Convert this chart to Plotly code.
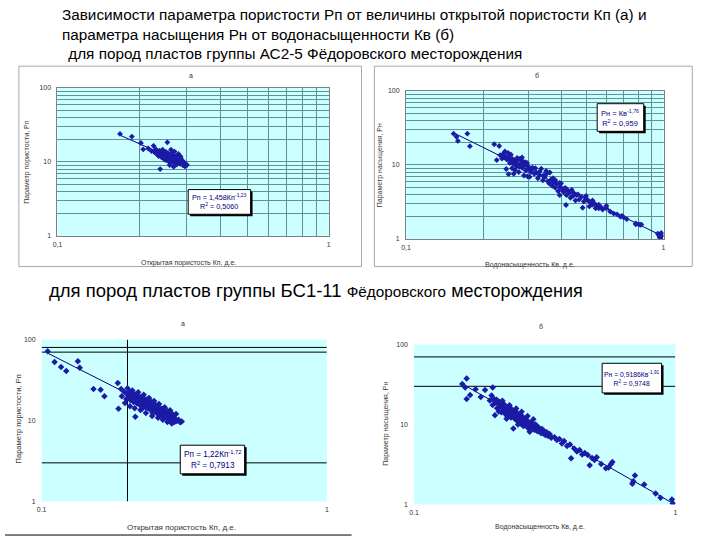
import plotly.graph_objects as go

# ---------------- DATA ----------------
# Panel а (АС2-5): open porosity Kp vs porosity parameter Pp
a_kp = [
    0.170, 0.188, 0.203, 0.207, 0.226, 0.254, 0.216, 0.222, 0.228, 0.230,
    0.232, 0.234, 0.236, 0.238, 0.239, 0.240, 0.242, 0.243, 0.244, 0.245,
    0.246, 0.247, 0.248, 0.249, 0.250, 0.251, 0.252, 0.253, 0.255, 0.256,
    0.257, 0.258, 0.259, 0.260, 0.261, 0.262, 0.263, 0.264, 0.265, 0.266,
    0.267, 0.268, 0.270, 0.271, 0.272, 0.274, 0.275, 0.276, 0.278, 0.280,
    0.281, 0.283, 0.285, 0.287, 0.290, 0.292, 0.295, 0.298, 0.300, 0.262,
    0.270, 0.279, 0.284, 0.288, 0.268, 0.259]
a_pp = [
    23.9, 22.0, 18.0, 14.8, 16.5, 18.4, 15.2, 14.0, 13.5, 15.0,
    12.8, 13.9, 12.0, 14.2, 8.0, 13.0, 11.5, 12.6, 14.6, 11.9,
    13.3, 12.2, 10.8, 12.9, 11.6, 13.7, 10.5, 12.4, 11.3, 13.0,
    10.2, 11.8, 12.5, 11.0, 9.8, 12.0, 10.8, 11.4, 13.2, 10.0,
    11.1, 12.3, 9.6, 10.6, 11.7, 10.2, 9.2, 10.9, 12.4, 9.9,
    10.5, 9.4, 11.2, 9.6, 9.0, 10.0, 8.7, 9.3, 9.1, 14.6,
    13.8, 12.8, 11.9, 10.4, 8.6, 9.1]
a_trend_x = [0.170, 0.300]
a_trend_y = [23.0, 9.1]

# Panel б (АС2-5): water saturation Kv vs saturation parameter Pn
b_kv = [
    0.153, 0.157, 0.159, 0.173, 0.177, 0.220, 0.225, 0.232, 0.236, 0.238,
    0.240, 0.242, 0.244, 0.245, 0.247, 0.249, 0.250, 0.251, 0.253, 0.254,
    0.256, 0.258, 0.259, 0.261, 0.262, 0.263, 0.265, 0.266, 0.268, 0.270,
    0.272, 0.274, 0.276, 0.278, 0.280, 0.282, 0.283, 0.285, 0.287, 0.288,
    0.290, 0.292, 0.294, 0.296, 0.298, 0.300, 0.302, 0.305, 0.310, 0.315,
    0.320, 0.325, 0.330, 0.335, 0.340, 0.345, 0.350, 0.355, 0.360, 0.365,
    0.370, 0.375, 0.380, 0.385, 0.390, 0.395, 0.400, 0.405, 0.410, 0.415,
    0.420, 0.425, 0.430, 0.435, 0.440, 0.445, 0.450, 0.460, 0.470, 0.480,
    0.490, 0.500, 0.510, 0.520, 0.530, 0.540, 0.550, 0.560, 0.570, 0.580,
    0.600, 0.620, 0.640, 0.660, 0.680, 0.700, 0.720, 0.780, 0.800, 0.820,
    0.950, 0.960, 0.965, 0.970, 0.975, 0.980, 0.985, 0.975, 0.245, 0.268,
    0.285, 0.310, 0.330, 0.350, 0.362, 0.380, 0.395, 0.420, 0.440, 0.465,
    0.500, 0.530, 0.560, 0.600, 0.255, 0.275, 0.295, 0.318, 0.342, 0.372,
    0.418, 0.485, 0.690, 0.780, 0.812, 0.545, 0.515, 0.455, 0.395, 0.230]
b_pn = [
    26.4, 24.0, 21.1, 26.4, 17.9, 19.0, 11.6, 13.5, 12.2, 14.0,
    12.8, 15.2, 13.0, 8.8, 11.9, 14.5, 7.5, 12.5, 10.6, 13.6,
    11.2, 9.0, 12.0, 10.3, 7.6, 11.5, 8.5, 10.8, 9.6, 12.4,
    10.0, 8.0, 9.4, 11.8, 10.5, 12.6, 9.1, 11.0, 7.2, 9.8,
    10.9, 8.4, 9.9, 7.0, 8.9, 9.3, 6.9, 8.0, 8.7, 7.6,
    7.9, 6.6, 7.3, 8.9, 6.2, 6.8, 7.5, 6.0, 5.6, 6.3,
    5.2, 5.8, 4.9, 5.5, 4.4, 5.0, 5.6, 4.6, 4.3, 4.9,
    3.9, 4.5, 4.2, 3.6, 4.6, 3.8, 4.1, 3.9, 3.4, 3.7,
    3.2, 3.5, 3.3, 3.1, 2.9, 3.0, 2.8, 2.6, 2.7, 2.5,
    2.6, 2.35, 2.2, 2.15, 2.0, 1.95, 1.85, 1.62, 1.58, 1.56,
    1.18, 1.12, 1.05, 1.15, 1.08, 1.20, 1.10, 1.00, 12.0, 11.0,
    10.2, 9.2, 8.1, 8.3, 7.9, 6.2, 5.7, 4.7, 4.4, 4.0,
    3.8, 3.3, 2.9, 2.8, 13.8, 12.0, 10.6, 9.0, 7.2, 6.6,
    2.87, 2.64, 2.05, 1.58, 1.55, 2.6, 2.75, 3.3, 3.9, 18.0]
b_trend_x = [0.155, 0.985]
b_trend_y = [26.5, 1.10]

# Panel а (БС1-11): open porosity Kp vs porosity parameter Pp
c_kp = [
    0.105, 0.111, 0.117, 0.122, 0.134, 0.136, 0.152, 0.161, 0.166, 0.185,
    0.190, 0.186, 0.191, 0.213, 0.195, 0.198, 0.200, 0.202, 0.203, 0.205,
    0.206, 0.208, 0.209, 0.210, 0.211, 0.212, 0.214, 0.215, 0.216, 0.217,
    0.218, 0.219, 0.220, 0.221, 0.222, 0.223, 0.224, 0.225, 0.226, 0.227,
    0.228, 0.229, 0.230, 0.231, 0.232, 0.233, 0.234, 0.235, 0.236, 0.237,
    0.238, 0.239, 0.240, 0.241, 0.242, 0.243, 0.244, 0.245, 0.246, 0.247,
    0.248, 0.249, 0.250, 0.251, 0.252, 0.253, 0.254, 0.255, 0.256, 0.257,
    0.258, 0.259, 0.260, 0.261, 0.262, 0.263, 0.264, 0.265, 0.266, 0.267,
    0.268, 0.269, 0.270, 0.272, 0.274, 0.275, 0.277, 0.279, 0.280, 0.282,
    0.284, 0.286, 0.288, 0.290, 0.292, 0.295, 0.298, 0.302, 0.306, 0.310,
    0.196, 0.204, 0.212, 0.222, 0.232, 0.244, 0.256, 0.266, 0.276, 0.286,
    0.200, 0.208, 0.218, 0.228, 0.238, 0.248, 0.258, 0.270, 0.282, 0.296,
    0.215, 0.225, 0.235, 0.245, 0.255, 0.265, 0.275, 0.285, 0.225, 0.245]
c_pp = [
    72.0, 53.0, 46.0, 41.0, 54.0, 45.0, 24.5, 24.0, 20.0, 29.0,
    24.5, 14.0, 20.0, 11.1, 22.5, 18.5, 21.0, 19.5, 23.0, 17.8,
    20.5, 18.8, 21.8, 16.9, 19.6, 17.8, 20.2, 18.4, 16.2, 19.0,
    17.2, 20.0, 18.0, 15.6, 19.2, 16.8, 17.9, 15.2, 18.6, 16.4,
    17.4, 15.0, 18.2, 16.0, 14.6, 17.0, 15.6, 16.8, 14.2, 17.6,
    15.2, 16.4, 13.8, 15.8, 14.6, 17.0, 13.4, 15.4, 14.2, 16.2,
    13.0, 14.8, 13.8, 15.6, 12.6, 14.4, 13.4, 12.2, 14.8, 13.0,
    12.0, 13.8, 12.6, 11.6, 13.2, 12.2, 14.0, 11.2, 12.8, 11.8,
    13.0, 11.0, 12.2, 11.4, 12.6, 10.6, 11.8, 10.9, 12.0, 10.3,
    11.2, 10.0, 10.8, 11.5, 9.6, 10.4, 9.9, 10.2, 9.5, 9.7,
    16.5, 15.0, 14.2, 13.5, 12.4, 11.4, 10.8, 10.2, 9.6, 9.2,
    25.0, 23.5, 22.4, 20.8, 19.0, 17.4, 16.0, 14.6, 13.4, 12.0,
    21.2, 19.6, 18.4, 16.6, 15.2, 13.9, 13.2, 12.4, 14.0, 12.4]
c_trend_x = [0.105, 0.310]
c_trend_y = [68.0, 9.8]
c_hlines = [80, 70, 3]
c_vlines = [0.2]

# Panel б (БС1-11): water saturation Kv vs saturation parameter Pn
d_kv = [
    0.153, 0.159, 0.157, 0.159, 0.164, 0.187, 0.200, 0.172, 0.180, 0.195,
    0.198, 0.200, 0.202, 0.204, 0.205, 0.207, 0.208, 0.210, 0.211, 0.212,
    0.214, 0.215, 0.216, 0.218, 0.219, 0.220, 0.222, 0.223, 0.224, 0.226,
    0.227, 0.228, 0.230, 0.231, 0.232, 0.234, 0.235, 0.236, 0.238, 0.239,
    0.240, 0.241, 0.242, 0.244, 0.245, 0.246, 0.248, 0.249, 0.250, 0.252,
    0.253, 0.254, 0.256, 0.257, 0.258, 0.260, 0.261, 0.262, 0.264, 0.265,
    0.266, 0.268, 0.269, 0.270, 0.272, 0.273, 0.275, 0.277, 0.278, 0.280,
    0.282, 0.284, 0.286, 0.288, 0.290, 0.292, 0.294, 0.296, 0.298, 0.300,
    0.303, 0.306, 0.309, 0.312, 0.315, 0.318, 0.322, 0.326, 0.330, 0.335,
    0.345, 0.352, 0.360, 0.368, 0.375, 0.385, 0.395, 0.399, 0.410, 0.420,
    0.430, 0.440, 0.450, 0.462, 0.470, 0.480, 0.490, 0.500, 0.542, 0.566,
    0.574, 0.555, 0.520, 0.684, 0.700, 0.690, 0.760, 0.840, 0.877, 0.970,
    0.977, 0.218, 0.232, 0.246, 0.258, 0.272, 0.286, 0.226, 0.250, 0.278]
d_pn = [
    32.0, 37.6, 29.1, 20.9, 23.4, 27.0, 29.1, 27.5, 22.0, 20.0,
    23.0, 17.5, 21.0, 13.0, 18.8, 20.4, 16.0, 18.0, 14.5, 19.2,
    16.8, 17.8, 14.2, 16.2, 18.4, 15.2, 17.0, 13.6, 15.8, 16.8,
    14.4, 12.6, 15.4, 16.2, 13.6, 14.8, 12.2, 15.6, 13.2, 14.2,
    8.9, 12.4, 13.8, 11.6, 14.6, 12.8, 11.2, 13.4, 12.0, 10.6,
    12.8, 11.4, 13.2, 10.2, 11.8, 12.4, 10.8, 9.6, 11.6, 10.4,
    12.0, 9.9, 11.2, 10.5, 9.2, 11.0, 10.0, 8.1, 10.4, 9.5,
    10.6, 9.0, 9.8, 8.6, 9.4, 10.0, 8.4, 9.0, 8.2, 9.2,
    8.6, 7.8, 8.8, 7.7, 8.2, 7.4, 8.0, 7.2, 7.6, 6.8,
    6.9, 6.4, 6.6, 5.8, 6.2, 5.4, 5.6, 3.78, 5.0, 4.6,
    4.8, 4.2, 4.4, 4.15, 3.1, 3.8, 3.6, 3.9, 2.84, 3.18,
    3.4, 2.9, 3.2, 1.82, 2.3, 1.95, 1.77, 1.37, 1.21, 1.15,
    1.03, 19.8, 17.4, 15.8, 14.4, 12.8, 11.6, 11.8, 10.0, 8.6]
d_trend_x = [0.152, 0.980]
d_trend_y = [32.5, 1.03]
d_hlines = [70, 30]

# Axis ticks
x_tick_vals = [0.1, 0.2, 0.3, 0.4, 0.5, 0.6, 0.7, 0.8, 0.9, 1.0]
x_tick_text_top = ["0,1", "", "", "", "", "", "", "", "", "1"]
y_tick_vals = [1, 2, 3, 4, 5, 6, 7, 8, 9, 10, 20, 30, 40, 50, 60, 70, 80, 90, 100]
y_tick_text = ["1", "", "", "", "", "", "", "", "", "10", "", "", "", "", "", "", "", "", "100"]
x_tick_vals_bot = [0.1, 1.0]
x_tick_text_bot = ["0.1", "1"]
y_tick_vals_bot = [1, 10, 100]
y_tick_text_bot = ["1", "10", "100"]

# ---------------- FIGURE ----------------
W, H = 720, 540
def px(x): return x / W
def py(y): return 1 - y / H

FONT = "Liberation Sans, Arial, sans-serif"
MARK = "#1b1ba6"
LINE = "#000080"
GRID = "#5b9494"
BG = "#ccffff"

fig = go.Figure()

# reference lines (bottom panels)
for v in c_hlines:
    fig.add_trace(go.Scatter(x=[0.1, 1.0], y=[v, v], mode="lines", xaxis="x3", yaxis="y3",
                             line=dict(color="black", width=1), hoverinfo="skip"))
for v in c_vlines:
    fig.add_trace(go.Scatter(x=[v, v], y=[1, 100], mode="lines", xaxis="x3", yaxis="y3",
                             line=dict(color="black", width=1), hoverinfo="skip"))
for v in d_hlines:
    fig.add_trace(go.Scatter(x=[0.1, 1.0], y=[v, v], mode="lines", xaxis="x4", yaxis="y4",
                             line=dict(color="black", width=1), hoverinfo="skip"))

panels = [
    ("x", "y", a_kp, a_pp, a_trend_x, a_trend_y, 4.5),
    ("x2", "y2", b_kv, b_pn, b_trend_x, b_trend_y, 4.5),
    ("x3", "y3", c_kp, c_pp, c_trend_x, c_trend_y, 5),
    ("x4", "y4", d_kv, d_pn, d_trend_x, d_trend_y, 5),
]
for xa, ya, xs, ys, tx, ty, ms in panels:
    fig.add_trace(go.Scatter(x=tx, y=ty, mode="lines", xaxis=xa, yaxis=ya,
                             line=dict(color=LINE, width=1), hoverinfo="skip"))
    fig.add_trace(go.Scatter(x=xs, y=ys, mode="markers", xaxis=xa, yaxis=ya,
                             marker=dict(symbol="diamond", size=ms, color=MARK,
                                         line=dict(width=0))))

tickfont = dict(family=FONT, size=7, color="#333333")

def top_x(domain):
    return dict(type="log", range=[-1, 0], domain=domain, tickmode="array",
                tickvals=x_tick_vals, ticktext=x_tick_text_top, showgrid=True,
                gridcolor=GRID, gridwidth=1, showline=True, linecolor="#808080",
                linewidth=1, mirror=True, ticks="", zeroline=False, tickfont=tickfont,
                ticklabelstandoff=2)

def top_y(domain, anchor):
    return dict(type="log", range=[0, 2], domain=domain, anchor=anchor, tickmode="array",
                tickvals=y_tick_vals, ticktext=y_tick_text, showgrid=True,
                gridcolor=GRID, gridwidth=1, showline=True, linecolor="#808080",
                linewidth=1, mirror=True, ticks="", zeroline=False, tickfont=tickfont,
                ticklabelstandoff=4)

def bot_x(domain, anchor):
    return dict(type="log", range=[-1, 0], domain=domain, anchor=anchor, tickmode="array",
                tickvals=x_tick_vals_bot, ticktext=x_tick_text_bot, showgrid=False,
                showline=False, ticks="", zeroline=False, tickfont=tickfont,
                ticklabelstandoff=3)

def bot_y(domain, anchor):
    return dict(type="log", range=[0, 2], domain=domain, anchor=anchor, tickmode="array",
                tickvals=y_tick_vals_bot, ticktext=y_tick_text_bot, showgrid=False,
                showline=False, ticks="", zeroline=False, tickfont=tickfont,
                ticklabelstandoff=5)

xa1 = top_x([px(53), px(327)]); xa1["anchor"] = "y"
ya1 = top_y([py(235), py(85)], "x")
xa2 = top_x([px(405), px(665)]); xa2["anchor"] = "y2"
ya2 = top_y([py(238), py(88)], "x2")
xa3 = bot_x([px(37), px(325)], "y3")
ya3 = bot_y([py(504), py(340)], "x3")
xa4 = bot_x([px(413), px(677)], "y4")
ya4 = bot_y([py(507), py(345)], "x4")

ann = []
def A(text, x, y, size=7, color="#333333", angle=0, xanchor="center", **kw):
    ann.append(dict(text=text, x=px(x), y=py(y), xref="paper", yref="paper",
                    showarrow=False, xanchor=xanchor, yanchor="middle", textangle=angle,
                    font=dict(family=FONT, size=size, color=color), **kw))

# header
A("Зависимости параметра пористости Рп от величины открытой пористости Кп (а) и", 56, 11, 15.3, "black", xanchor="left")
A("параметра насыщения Рн от водонасыщенности Кв (б)", 56, 31, 15.3, "black", xanchor="left")
A(" для пород пластов группы АС2-5 Фёдоровского месторождения", 58, 50, 15.3, "black", xanchor="left")
A("для пород пластов группы БС1-11 <span style='font-size:15.3px'>Фёдоровского</span> "
  "<span style='font-size:18px'>месторождения</span>",
  42, 290, 18.5, "black", xanchor="left")

# panel letters
A("а", 188, 72, 7); A("б", 537, 72, 7); A("а", 180, 324, 7); A("б", 541, 327, 7)

# axis titles
A("Открытая пористость Кп, д.е.", 185, 262)
A("Параметр пористости, Рп", 22, 160, angle=-90)
A("Водонасыщенность Кв, д.е.", 530, 264)
A("Параметр насыщения, Рн", 379, 163, angle=-90)
A("Открытая пористость Кп, д.е.", 178, 530, 8)
A("Параметр пористости, Рп", 14, 420, 7.5, angle=-90)
A("Водонасыщенность Кв, д.е.", 540, 530)
A("Параметр насыщения, Рн", 385, 425, angle=-90)

# equation boxes
boxes = [
    ((185, 188, 248, 213), "Рп = 1,458Кп<sup>-1,23</sup><br>R<sup>2</sup> = 0,5060", 7.2),
    ((598, 101, 645, 129), "Рн = Кв<sup>-1,76</sup><br>R<sup>2</sup> = 0,959", 7.5),
    ((177, 447, 242, 476), "Рп = 1,22Кп<sup>-1,72</sup><br>R<sup>2</sup> = 0,7913", 8.2),
    ((603, 364, 663, 394), "Рн = 0,9186Кв<sup>-1,91</sup><br>R<sup>2</sup> = 0,9748", 6.8),
]
shapes = []
for (x0, y0, x1, y1), txt, fs in boxes:
    shapes.append(dict(type="rect", xref="paper", yref="paper", x0=px(x0 + 2), x1=px(x1 + 2),
                       y0=py(y1 + 2), y1=py(y0 + 2), fillcolor="black", line=dict(width=0), layer="above"))
    shapes.append(dict(type="rect", xref="paper", yref="paper", x0=px(x0), x1=px(x1),
                       y0=py(y1), y1=py(y0), fillcolor="white", line=dict(color="black", width=1), layer="above"))
    A(txt, (x0 + x1) / 2, (y0 + y1) / 2, fs, LINE)

# frames of the top charts
shapes.append(dict(type="rect", xref="paper", yref="paper", x0=px(14), x1=px(360), y0=py(266), y1=py(63),
                   fillcolor="rgba(0,0,0,0)", line=dict(color="#a8a8a8", width=1), layer="below"))
shapes.append(dict(type="rect", xref="paper", yref="paper", x0=px(373), x1=px(694), y0=py(266), y1=py(63),
                   fillcolor="rgba(0,0,0,0)", line=dict(color="#a8a8a8", width=1), layer="below"))
# bottom rule under lower-left chart
shapes.append(dict(type="line", xref="paper", yref="paper", x0=0, x1=px(350), y0=py(538), y1=py(538),
                   line=dict(color="black", width=1)))

fig.update_layout(
    width=W, height=H, margin=dict(l=0, r=0, t=0, b=0),
    paper_bgcolor="white", plot_bgcolor=BG, showlegend=False,
    xaxis=xa1, yaxis=ya1, xaxis2=xa2, yaxis2=ya2,
    xaxis3=xa3, yaxis3=ya3, xaxis4=xa4, yaxis4=ya4,
    annotations=ann, shapes=shapes, font=dict(family=FONT),
)

fig.write_html("out.html", config={"displayModeBar": False},
               post_script="document.body.style.margin='0';document.body.style.padding='0';")
